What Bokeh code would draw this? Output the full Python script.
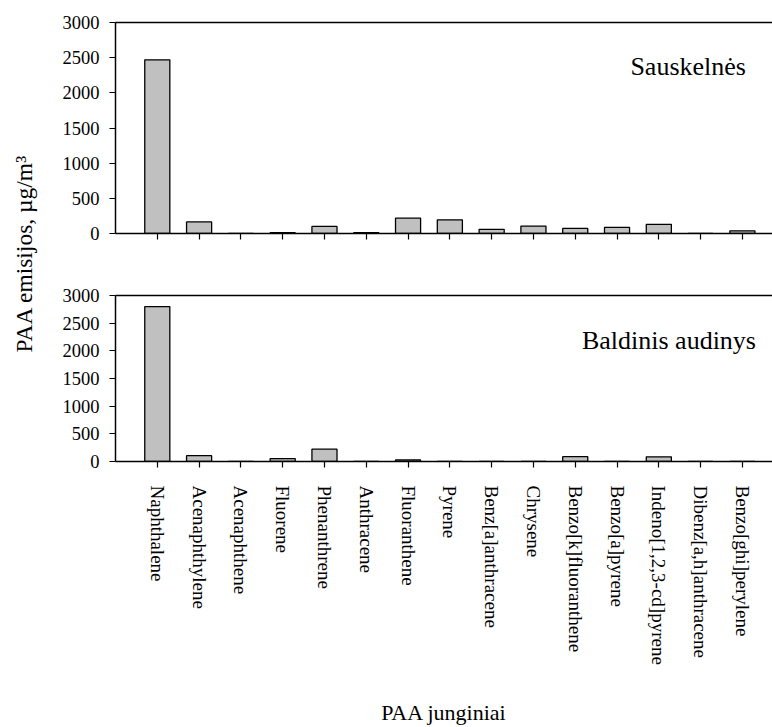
import math

from bokeh.embed import file_html
from bokeh.layouts import column, row
from bokeh.models import (ColumnDataSource, CustomLabelingPolicy, FixedTicker, Label,
                          LinearAxis, Range1d)
from bokeh.plotting import figure
from bokeh.resources import INLINE

# PAH compounds (x categories)
compounds = [
    "Naphthalene", "Acenaphthylene", "Acenaphthene", "Fluorene", "Phenanthrene",
    "Anthracene", "Fluoranthene", "Pyrene", "Benz[a]anthracene", "Chrysene",
    "Benzo[k]fluoranthene", "Benzo[a]pyrene", "Indeno[1,2,3-cd]pyrene",
    "Dibenz[a,h]anthracene", "Benzo[ghi]perylene",
]

# Emissions, µg/m3
sauskelnes = [2470, 165, 0, 12, 100, 12, 218, 195, 60, 106, 72, 88, 130, 0, 38]
baldinis_audinys = [2800, 105, 0, 52, 222, 0, 28, 0, 0, 0, 88, 0, 85, 0, 0]

y_ticks = [0, 500, 1000, 1500, 2000, 2500, 3000]

FONT = "Liberation Serif"
BAR_FILL = "#c0c0c0"

# hides every tick label of an axis while keeping its ticks
NO_LABELS = CustomLabelingPolicy(code="return new Set()")


def make_panel(values, name, name_x, name_y, height, border_top, border_bottom,
               border_left, x_end, show_labels):
    positions = list(range(len(compounds)))
    src = ColumnDataSource(dict(x=positions, top=values))
    p = figure(
        width=732, height=height,
        x_range=Range1d(-1, x_end), y_range=Range1d(0, 3000),
        output_backend="svg", toolbar_location=None,
        min_border_top=border_top, min_border_bottom=border_bottom,
        min_border_left=border_left, min_border_right=0,
    )
    p.outline_line_color = None
    p.grid.visible = False
    p.background_fill_color = "white"
    p.border_fill_color = "white"

    p.vbar(x="x", top="top", width=0.6, source=src,
           fill_color=BAR_FILL, line_color="black", line_width=1.3)

    # y axis
    ya = p.yaxis[0]
    ya.ticker = FixedTicker(ticks=y_ticks)
    ya.major_tick_out = 6
    ya.major_tick_in = 0
    ya.minor_tick_out = 0
    ya.minor_tick_in = 0
    ya.axis_line_width = 1.5
    ya.major_tick_line_width = 1.2
    ya.major_label_text_font = FONT
    ya.major_label_text_font_size = "18.5px"
    ya.major_label_text_color = "black"
    ya.major_label_standoff = 10

    # x axis with a tick under each compound
    xa = p.xaxis[0]
    xa.ticker = FixedTicker(ticks=positions)
    xa.major_tick_out = 6
    xa.major_tick_in = 0
    xa.minor_tick_out = 0
    xa.minor_tick_in = 0
    xa.axis_line_width = 1.5
    xa.major_tick_line_width = 1.2
    if show_labels:
        xa.major_label_overrides = {i: c for i, c in enumerate(compounds)}
        xa.major_label_orientation = "vertical"
        xa.major_label_text_font = FONT
        xa.major_label_text_font_size = "19px"
        xa.major_label_text_color = "black"
        xa.major_label_standoff = 18
        xa.axis_label = "PAA junginiai"
        xa.axis_label_text_font = FONT
        xa.axis_label_text_font_size = "22px"
        xa.axis_label_text_font_style = "normal"
        xa.axis_label_text_color = "black"
        xa.axis_label_standoff = 32
    else:
        xa.major_label_policy = NO_LABELS
        xa.major_label_standoff = 0

    # frame line along the top
    top_line = LinearAxis(
        ticker=FixedTicker(ticks=[]), axis_line_width=1.5,
        major_tick_out=0, major_tick_in=0, minor_tick_out=0, minor_tick_in=0,
        major_label_standoff=0,
    )
    p.add_layout(top_line, "above")

    p.add_layout(Label(
        x=name_x, y=name_y, text=name,
        text_font=FONT, text_font_size="26px", text_color="black",
        text_align="left", text_baseline="alphabetic",
    ))
    return p


top = make_panel(sauskelnes, "Sauskelnės", 11.32, 2369,
                 height=280, border_top=22, border_bottom=47, border_left=75,
                 x_end=14.72, show_labels=False)
bottom = make_panel(baldinis_audinys, "Baldinis audinys", 10.16, 2189,
                    height=447, border_top=15, border_bottom=263, border_left=75,
                    x_end=14.72, show_labels=True)

# shared y-axis title spanning both panels
ytitle = figure(
    width=40, height=727, x_range=Range1d(0, 40), y_range=Range1d(0, 727),
    output_backend="svg", toolbar_location=None, min_border=0,
)
ytitle.axis.visible = False
ytitle.grid.visible = False
ytitle.outline_line_color = None
ytitle.add_layout(Label(
    x=23, y=474, text="PAA emisijos, µg/m³", angle=math.pi / 2,
    text_font=FONT, text_font_size="23.5px", text_color="black",
    text_align="center", text_baseline="middle",
))

layout = row(ytitle, column(top, bottom, spacing=0), spacing=0)

open("out.html", "w").write(file_html(layout, INLINE))
